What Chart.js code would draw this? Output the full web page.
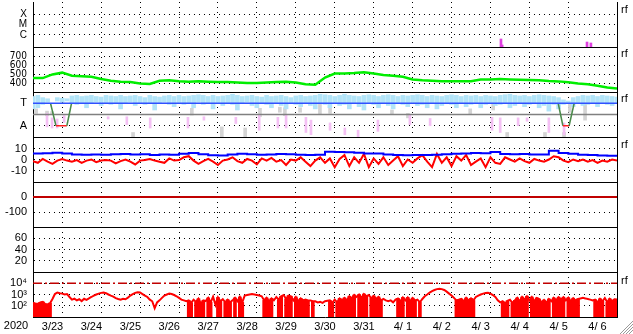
<!DOCTYPE html>
<html>
<head>
<meta charset="utf-8">
<script src="https://cdn.jsdelivr.net/npm/chart.js@4.4.1/dist/chart.umd.min.js"></script>
<style>html,body{margin:0;padding:0;background:#fff}</style>
</head>
<body>
<canvas id="c" width="633" height="334"></canvas>
<script>
// day labels along the bottom (one per day, 15 days)
const days = ['3/23','3/24','3/25','3/26','3/27','3/28','3/29','3/30','3/31','4/ 1','4/ 2','4/ 3','4/ 4','4/ 5','4/ 6'];

// panel 1 - flare events (C=1, M=2, X=3)
const flareClasses = ['C','M','X'];
const flareDay = [12.02, 12.05, 14.23, 14.33];
const flareTop = [0.62, 0.05, 0.33, 0.24];

// panel 2 - solar wind speed, every 6 h
const speed = [455,455,495,515,480, 475,470,445,425,415, 410,395,390,425,430, 420,415,420,415,412,
  410,405,400,400,405, 410,415,405,385,380, 460,505,505,510,520, 505,490,480,470,440,
  430,425,420,420,420, 420,440,440,445,440, 435,432,430,422,418, 408,395,385,370,350, 340];
const speedTicks = [400,500,600,700];

// panel 3 - sector (T = 1, A = -1); band every 3 h
const sectorDay = [0.45, 0.59, 0.87, 0.99, 7, 13.49, 13.61, 13.77, 13.9];
const sectorVal = [1, -1, -1, 1, null, 1, -1, -1, 1];
const bandHi = [1.6,1.7,1.5,1.4,null,1.5,1.45,1.4,
  1.65,1.7,1.6,1.65,1.7,1.6,1.55,1.7,
  1.65,1.6,1.7,1.6,1.65,1.7,1.6,1.5,
  1.7,1.6,1.55,1.65,1.7,1.6,1.7,1.6,
  1.65,1.7,1.75,1.7,1.6,1.7,1.6,1.65,
  1.7,1.8,1.7,1.6,1.65,1.7,1.6,1.55,
  1.7,1.6,1.65,1.7,1.6,1.5,1.65,1.7,
  1.6,1.65,1.7,1.8,1.75,1.7,1.6,1.7,
  1.8,1.7,1.65,1.6,1.7,1.75,1.7,1.6,
  1.7,1.75,1.7,1.6,1.7,1.65,1.7,1.75,
  1.7,1.6,1.7,1.65,1.6,1.7,1.75,1.7,
  1.6,1.7,1.65,1.7,1.6,1.7,1.65,1.6,
  1.7,1.75,1.8,1.7,1.65,1.7,1.6,1.7,
  1.75,1.7,1.65,1.6,1.5,1.3,1.2,1.5,
  1.6,1.7,1.65,1.7,1.6,1.7,1.65,1.6, 1.55];
const bandLo = [0.5,0.6,0.9,1.1,null,1.2,1.1,1.2,
  1.0,0.9,1.0,0.6,1.0,1.1,0.8,1.0,
  0.9,1.0,0.5,1.0,1.1,0.8,1.0,0.9,
  1.0,0.4,1.0,1.1,0.9,0.7,1.0,0.9,
  1.0,0.6,1.1,0.9,1.0,0.5,1.0,0.8,
  1.0,0.9,0.4,1.0,1.1,0.8,0.6,1.0,
  0.9,0.6,1.0,0.8,0.5,1.0,0.9,0.7,
  1.0,0.8,0.5,1.0,0.9,0.6,1.0,0.8,
  0.9,0.5,1.0,0.7,0.4,1.0,0.9,0.6,
  1.0,0.8,0.5,1.0,0.9,0.7,1.0,0.8,
  0.9,0.6,1.0,0.5,0.8,1.0,0.9,0.6,
  1.0,0.7,0.9,1.0,0.6,0.9,1.0,0.8,
  0.9,1.0,0.6,0.8,1.0,0.7,0.9,1.0,
  0.6,0.8,0.3,0.9,0.5,0.9,1.0,0.7,
  1.0,0.8,0.9,1.0,0.7,1.0,0.9,0.8, 1.0];
const pinkDay = [0.36,0.49,0.62,0.80,1.93,2.41,3.01,3.98,4.39,5.21,5.81,6.29,6.5,7.01,7.14,7.63,8.01,8.35,8.86,9.68,10.2,11.79,12.0,12.46,12.69,13.25,13.64];
const pinkLo = [-1.1,-1.2,-1.2,-0.7,-0.4,-0.9,-1.2,-1.2,-0.5,-0.8,-1.4,-1.2,-1.2,-1.6,-1.8,-1.4,-1.8,-2.0,-1.5,-0.9,-1.0,-1.4,-1.6,-1.0,-0.6,-1.6,-1.8];
const pinkHi = [0.1,-0.3,-0.4,-0.1,-0.2,-0.2,-0.3,-0.25,-0.2,-0.25,-0.05,-0.25,-0.05,-0.25,-0.5,-0.75,-1.2,-1.4,-0.5,-0.05,-0.35,-0.25,-0.3,-0.3,-0.3,-0.3,-0.75];
const grayDay = [0.08,0.36,0.49,2.57,4.08,4.85,5.45,5.83,6.34,6.47,6.86,7.37,7.63,9.22,9.63,11.23,11.82,12.18,13.15,13.64,13.79,14.18];
const grayLo = [0.1,-0.1,0.0,-2.0,-0.05,-2.0,-2.0,-0.2,0.2,-0.1,0.2,0.0,0.1,0.0,-0.3,0.0,0.4,-2.0,-2.0,-2.0,0.2,-0.5];
const grayHi = [0.5,0.3,0.25,-1.6,0.55,-1.1,-1.2,0.55,0.65,0.6,0.6,0.9,0.8,0.4,0.1,0.5,1.1,-1.6,-1.6,-1.6,0.9,1.0];

// panel 4 - Bt every 6 h, Bz every 3 h
const bt = [5.5,5.8,6.2,5.5,4.6, 4.4,4.6,4.3,4.8,5.0, 4.6,4.8,4.2,4.5,4.3, 5.2,6.0,4.8,3.8,3.6,
  4.5,5.3,4.8,4.4,4.6, 5.0,4.8,4.4,4.0,4.3, 7.0,6.8,6.5,6.2,5.5, 5.4,4.5,4.0,3.8,4.2,
  4.0,4.4,4.8,5.2,5.5, 6.0,5.6,6.8,5.0,4.8, 5.0,4.6,4.5,8.0,6.0, 5.2,4.3,4.0,3.6,3.4, 3.2];
const bz = [-1.5,-3,0.5,-2,-4,-1,0.5,-1,
  -2,-0.5,-3,-1,0,-2.5,-1,-0.5,
  -1,-3.5,-1.5,0,-2,-4.5,-1,-0.5,
  0.5,-1,-2,-3,1,-1,-0.5,2,
  3,-1,-4,-1.5,0.5,-2,-5,-1,
  0,2,-1.5,-3,0.5,-1,-4.5,1,
  -1,1.5,-2,-0.5,-5,0,-1,2,
  -2,-6,-1,2,-3,1,-7,0.5,
  4,-6,2,-3,5,-7,1,-4,
  2,-5,-1,3,-6,0,-3,1,
  4,-2,-7,5,-3,2,-6,3,
  -1,4,-5,-2,1,-7,2,-3,
  -4,2,0,-2,1,-1.5,-3,0.5,
  -1,-2,0,3,2,-1,-2.5,0,
  -1.5,0,-2,-0.5,-3,-1,-2,0, -1];

// panel 5 - Dst, daily
const dst = [0,0,0,0,0,0,0,0,0,0,0,0,0,0,0,0];

// panel 7 - electron flux every 1.5 h (upper envelope), and where it dropped out below the axis
const flux = [
  180,160,150,200,220,140,130,170,400,1100,1500,1300,1200,1000,1100,600,
  350,420,300,380,260,420,330,460,600,800,1000,1200,1400,1500,1300,1000,
  800,650,480,400,350,420,380,520,800,1100,1400,1600,1500,1100,800,600,
  350,250,60,200,300,500,800,1000,1200,1100,900,700,500,350,300,250,
  300,180,350,220,420,150,300,260,500,200,650,120,550,250,380,200,
  350,200,300,500,250,600,200,800,900,1000,1100,1000,900,800,700,300,
  500,250,450,300,600,350,700,900,400,800,700,300,600,250,450,300,
  350,300,300,250,250,200,220,180,250,280,300,180,350,200,450,300,
  500,300,700,450,900,600,1000,500,1100,700,900,450,750,400,600,300,
  400,300,250,300,200,350,450,250,550,300,550,250,480,300,350,200,
  400,700,1000,1500,2000,2500,3000,3200,3000,2500,1800,1200,800,500,300,350,
  400,250,500,300,450,300,600,800,1000,1200,1350,1400,1200,900,600,300,
  200,250,150,280,350,180,300,500,250,600,350,700,300,600,250,500,
  400,200,320,180,400,250,500,300,580,350,580,300,520,250,470,300,
  400,450,500,450,400,350,300,350,200,420,250,480,200,420,250,380, 350];
const fluxDropout = [
  '1111111100000000', '0000000000000000', '0000000000000000', '0000000000000000',
  '1101111011001101', '1101011000000001', '1110011011101111', '1101000000110111',
  '1111101111011111', '0000001110111101', '0000000000000011', '1111110000000000',
  '0111011111110111', '1111101111101111', '1000000111101111', '1'
].join('');
const fluxAlert = 1e4;
const fluxTickLabels = {100: '10\u00b2', 1000: '10\u00b3', 10000: '10\u2074'};

const FONT = "'Liberation Sans', Arial, sans-serif";
const NARROW = "'Liberation Sans Narrow', 'DejaVu Sans Condensed', 'Liberation Sans', sans-serif";

const series = (arr, step) => arr.map((v, i) => ({x: i * step, y: v}));
const ranges = (t, lo, hi) => t.map((d, i) => ({x: d, y: [lo[i], hi[i]]}));
const bandData = bandHi.map((h, i) => ({x: i / 8, y: h === null ? null : [bandLo[i], h]})).filter(p => p.y);
const dropData = flux.map((v, i) => ({x: i / 16, y: fluxDropout[i] === '1' ? [10, v] : null})).filter(p => p.y);

function panelAxis(weight, o) {
  return {
    type: o.type || 'linear', position: 'left', stack: 'panels', stackWeight: 1, weight: weight,
    min: o.min, max: o.max, offset: false,
    grid: {color: '#000', lineWidth: 1, drawTicks: false},
    border: {display: true, color: '#000', width: 1, dash: [1, 4]},
    ticks: {autoSkip: false, padding: 6, color: '#000', font: {family: o.family || FONT, size: o.size || 11}, callback: o.fmt},
    afterBuildTicks: s => { s.ticks = o.ticks.map(v => ({value: v})); },
    afterFit: s => { s.width = 33; s.paddingTop = 0; s.paddingBottom = 0; }
  };
}

const line = (yAxisID, data, color, width, extra) => Object.assign({
  type: 'line', yAxisID, xAxisID: 'x', data, borderColor: color, borderWidth: width,
  pointRadius: 0, tension: 0, fill: false, spanGaps: false
}, extra || {});
const bars = (yAxisID, data, color, thick, order) => ({
  type: 'bar', yAxisID, xAxisID: 'x', data, backgroundColor: color, borderWidth: 0,
  barThickness: thick, grouped: false, order
});

const rfMarks = [['p1', 3.2], ['p2', 700], ['p3', 1.2], ['p4', 11.5], ['p7', 1e4]];

const decor = {
  id: 'decor',
  afterDatasetsDraw(chart) {
    const {ctx, chartArea: a, scales} = chart;
    ctx.save();
    ctx.strokeStyle = '#000';
    ctx.lineWidth = 1;
    ctx.beginPath();
    ['p2','p3','p4','p5','p6','p7'].forEach(id => {
      const y = Math.round(scales[id].top) + 0.5;
      ctx.moveTo(a.left, y); ctx.lineTo(a.right, y);
    });
    const xr = Math.round(a.right) + 0.5;
    ctx.moveTo(xr, a.top); ctx.lineTo(xr, a.bottom);
    ctx.stroke();
    ctx.fillStyle = '#000';
    ctx.font = '11px ' + FONT;
    ctx.textAlign = 'left';
    ctx.textBaseline = 'middle';
    rfMarks.forEach(([id, v]) => ctx.fillText('rf', a.right + 4, scales[id].getPixelForValue(v) - 2));
    ctx.textAlign = 'center';
    ctx.textBaseline = 'top';
    ctx.fillText('2020', 16, 320);
    ctx.strokeStyle = '#9a9a9a';
    ctx.beginPath();
    [4, 7, 10, 13].forEach(k => { ctx.moveTo(633 - k, 334); ctx.lineTo(633, 334 - k); });
    ctx.stroke();
    ctx.restore();
  }
};

const dayGrid = c => {
  const v = c.tick ? c.tick.value : 0;
  return (Number.isInteger(v) && v > 0 && v < 15) ? '#000' : 'rgba(0,0,0,0)';
};

new Chart(document.getElementById('c'), {
  type: 'line',
  data: {
    datasets: [
      // panel 1
      bars('p1', flareDay.map((d, i) => ({x: d, y: [-0.143, flareTop[i]]})), '#e040e0', 2, 1),
      // panel 2
      line('p2', series(speed, 0.25), '#00ee00', 2.5, {order: 1}),
      // panel 3
      bars('p3', ranges(grayDay, grayLo, grayHi), '#d4d4d4', 3, 9),
      bars('p3', bandData, '#b2e4f8', 4, 8),
      bars('p3', ranges(pinkDay, pinkLo, pinkHi), '#f4c0f4', 2, 7),
      line('p3', [{x: 0, y: 0}, {x: 15, y: 0}], '#808080', 1.5, {order: 6}),
      line('p3', sectorDay.map((d, i) => ({x: d, y: sectorVal[i]})), '#4a8a4a', 1.5, {order: 5,
        segment: {borderColor: c => (c.p0.parsed.y === -1 && c.p1.parsed.y === -1) ? '#ff2020' : undefined}}),
      line('p3', [{x: 0, y: 1}, {x: 15, y: 1}], '#3050ff', 1.5, {order: 4}),
      // panel 4
      line('p4', series(bz, 0.125), '#ff0000', 2, {order: 3}),
      line('p4', series(bt, 0.25), '#0000ff', 2, {order: 2, stepped: true}),
      // panel 5
      line('p5', series(dst, 1), '#c00000', 2, {order: 1}),
      // panel 7
      bars('p7', dropData, '#ff0000', 3, 3),
      line('p7', series(flux, 1 / 16), '#ff0000', 2, {order: 2}),
      line('p7', [{x: 0, y: fluxAlert}, {x: 15, y: fluxAlert}], '#c00000', 1.5, {order: 1, borderDash: [9, 3, 2, 3]})
    ]
  },
  options: {
    responsive: false,
    devicePixelRatio: 1,
    animation: false,
    layout: {padding: {left: 0, right: 16, top: 2, bottom: 0}},
    plugins: {legend: {display: false}, tooltip: {enabled: false}},
    scales: {
      x: {
        type: 'linear', position: 'bottom', min: 0, max: 15, offset: false,
        grid: {color: dayGrid, drawTicks: false},
        border: {display: true, color: '#000', width: 1, dash: [1, 4]},
        ticks: {autoSkip: false, maxRotation: 0, padding: 3, color: '#000', font: {family: FONT, size: 11},
          callback: v => Number.isInteger(v) ? '' : days[Math.floor(v)]},
        afterBuildTicks: s => { const t = []; for (let i = 0; i <= 30; i++) t.push({value: i / 2}); s.ticks = t; },
        afterFit: s => { s.height = 17; s.paddingLeft = 0; s.paddingRight = 0; }
      },
      p1: panelAxis(7, {min: -0.143, max: 4.143, ticks: [1, 2, 3], size: 10, fmt: v => flareClasses[v - 1]}),
      p2: panelAxis(6, {min: 300, max: 800, ticks: speedTicks, size: 10, family: NARROW, fmt: v => String(v)}),
      p3: panelAxis(5, {min: -2, max: 2, ticks: [-1, 1], fmt: v => v > 0 ? 'T' : 'A'}),
      p4: panelAxis(4, {min: -20.5, max: 20.5, ticks: [-10, 0, 10], fmt: v => String(v)}),
      p5: panelAxis(3, {min: -200, max: 100, ticks: [-100, 0], fmt: v => String(v)}),
      p6: panelAxis(2, {min: 0, max: 80, ticks: [20, 40, 60], fmt: v => String(v)}),
      p7: panelAxis(1, {type: 'logarithmic', min: 10, max: 1e5, ticks: [100, 1000, 10000], fmt: v => fluxTickLabels[v]})
    }
  },
  plugins: [decor]
});
</script>
</body>
</html>
